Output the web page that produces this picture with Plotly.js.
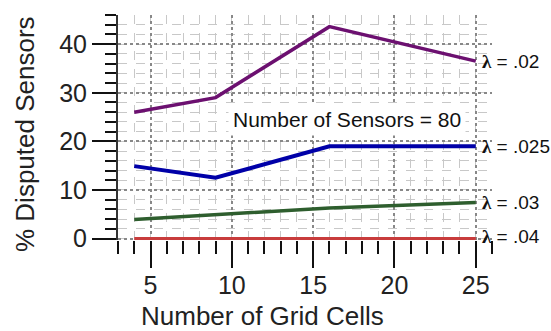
<!DOCTYPE html>
<html>
<head>
<meta charset="utf-8">
<script src="https://cdn.plot.ly/plotly-3.0.1.min.js"></script>
<style>html,body{margin:0;padding:0;background:#fff;}#chart{width:551px;height:331px;}</style>
</head>
<body>
<div id="chart"></div>
<script>
const gridCells = [4, 9, 16, 25];
const lambda02 = [26.0, 29.0, 43.6, 36.5];
const lambda025 = [14.9, 12.5, 19.0, 19.0];
const lambda03 = [3.9, 4.9, 6.3, 7.4];
const lambda04 = [0, 0, 0, 0];
const seriesNames = ['λ = .02', 'λ = .025', 'λ = .03', 'λ = .04'];
const xTickVals = [5, 10, 15, 20, 25];
const yTickVals = [0, 10, 20, 30, 40];
const noteText = 'Number of Sensors = 80';

const seriesData = [lambda02, lambda025, lambda03, lambda04];
const colors = ['#6c1070', '#0000a8', '#2e5e2e', '#c83c3c'];
const widths = [3.5, 4, 3.5, 3];
const font = '"Liberation Sans", Arial, sans-serif';

const L = 118, R = 59, T = 15, B = 91, W = 551, H = 331;
const pw = W - L - R, ph = H - T - B;
const px = v => (v - L) / pw;
const py = v => (H - B - v) / ph;

const traces = seriesData.map((ys, i) => ({
  x: gridCells, y: ys, type: 'scatter', mode: 'lines',
  name: seriesNames[i],
  line: {color: colors[i], width: widths[i]},
  cliponaxis: false, showlegend: false
}));

const annotations = seriesData.map((ys, i) => ({
  x: gridCells[gridCells.length - 1], y: ys[ys.length - 1],
  xref: 'x', yref: 'y', xanchor: 'left', yanchor: 'middle',
  xshift: 4, yshift: i === 3 ? 2 : 0, showarrow: false,
  text: '<span style="font-family:\'Liberation Serif\',serif;font-weight:bold">' + seriesNames[i].slice(0,1) + '</span>' + seriesNames[i].slice(1),
  font: {family: font, size: 19, color: '#111'}
}));
annotations.push({
  x: 17.06, y: 24.6, xref: 'x', yref: 'y', showarrow: false,
  text: noteText, bgcolor: '#ffffff', borderpad: 4,
  font: {family: font, size: 21, color: '#111'}
});
annotations.push({
  x: px(262), y: py(316), xref: 'paper', yref: 'paper', showarrow: false,
  xanchor: 'center', yanchor: 'middle',
  text: 'Number of Grid Cells', font: {family: font, size: 26, color: '#222'}
});
annotations.push({
  x: px(25), y: py(134), xref: 'paper', yref: 'paper', showarrow: false,
  xanchor: 'center', yanchor: 'middle', textangle: -90,
  text: '% Disputed Sensors', font: {family: font, size: 26, color: '#222'}
});

const layout = {
  width: W, height: H,
  margin: {l: L, r: R, t: T, b: B},
  paper_bgcolor: '#fff', plot_bgcolor: '#fff',
  font: {family: font, color: '#222'},
  xaxis: {
    range: [3, 26], tickmode: 'array', tickvals: xTickVals,
    ticks: 'outside', ticklen: 27, tickwidth: 2, tickcolor: '#111',
    ticklabelstandoff: -4,
    tickfont: {family: font, size: 25, color: '#222'},
    showline: false, zeroline: false,
    showgrid: true, gridcolor: '#888', griddash: 'dot', gridwidth: 2,
    minor: {dtick: 1, tick0: 0, ticks: 'outside', ticklen: 13, tickwidth: 2, tickcolor: '#111',
            showgrid: true, gridcolor: '#c8c8c8', griddash: 'dash', gridwidth: 1},
    fixedrange: true
  },
  yaxis: {
    range: [-0.3, 46], tickmode: 'array', tickvals: yTickVals,
    ticks: 'outside', ticklen: 24, tickwidth: 2, tickcolor: '#111',
    tickfont: {family: font, size: 25, color: '#222'},
    showline: true, linecolor: '#333', linewidth: 2, zeroline: false,
    showgrid: true, gridcolor: '#888', griddash: 'dot', gridwidth: 2,
    minor: {dtick: 2, tick0: 0, ticks: 'outside', ticklen: 11, tickwidth: 2, tickcolor: '#111',
            showgrid: true, gridcolor: '#c8c8c8', griddash: 'dash', gridwidth: 1},
    fixedrange: true
  },
  annotations: annotations,
  showlegend: false
};

Plotly.newPlot('chart', traces, layout, {displayModeBar: false, staticPlot: true});
</script>
</body>
</html>
